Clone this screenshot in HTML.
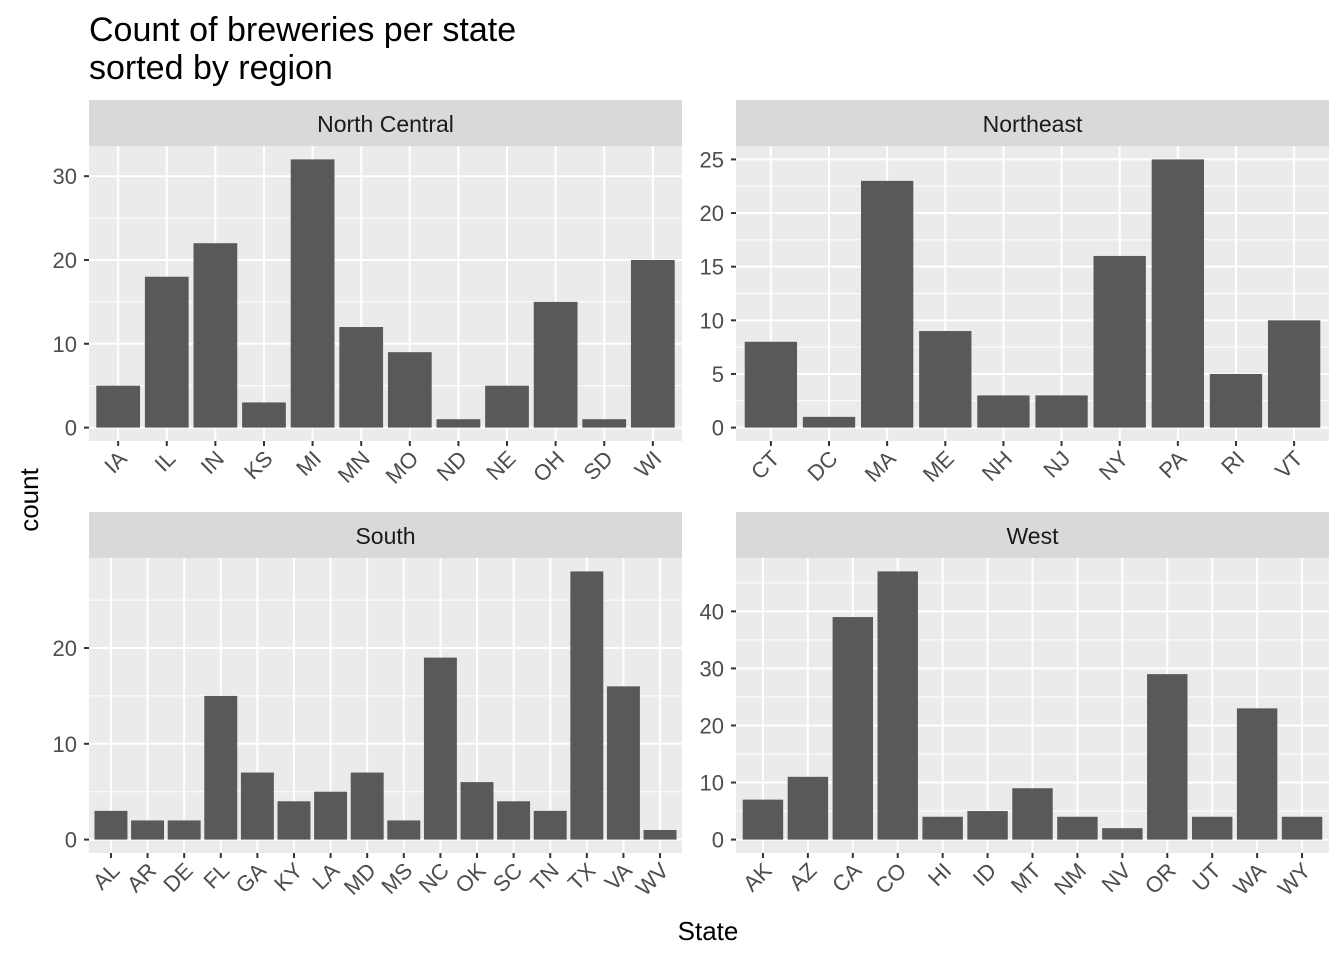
<!DOCTYPE html>
<html><head><meta charset="utf-8"><style>
html,body{margin:0;padding:0;background:#fff;}
svg{display:block;font-family:"Liberation Sans",Arial,sans-serif;}
</style></head><body>
<svg id="chart" width="1344" height="960" viewBox="0 0 1344 960">
<rect width="1344" height="960" fill="#fff"/>
<text x="89" y="41" font-size="34" fill="#000">Count of breweries per state</text>
<text x="89" y="79" font-size="34" fill="#000">sorted by region</text>
<text x="708" y="940" font-size="26" fill="#000" text-anchor="middle">State</text>
<text transform="translate(38,500) rotate(-90)" font-size="26" fill="#000" text-anchor="middle">count</text>
<g id="panels"></g>
</svg>
<script>
const ncStates=["IA","IL","IN","KS","MI","MN","MO","ND","NE","OH","SD","WI"];
const ncCounts=[5,18,22,3,32,12,9,1,5,15,1,20];
const neStates=["CT","DC","MA","ME","NH","NJ","NY","PA","RI","VT"];
const neCounts=[8,1,23,9,3,3,16,25,5,10];
const soStates=["AL","AR","DE","FL","GA","KY","LA","MD","MS","NC","OK","SC","TN","TX","VA","WV"];
const soCounts=[3,2,2,15,7,4,5,7,2,19,6,4,3,28,16,1];
const weStates=["AK","AZ","CA","CO","HI","ID","MT","NM","NV","OR","UT","WA","WY"];
const weCounts=[7,11,39,47,4,5,9,4,2,29,4,23,4];
const ncTicks=[0,10,20,30];
const neTicks=[0,5,10,15,20,25];
const soTicks=[0,10,20];
const weTicks=[0,10,20,30,40];

const NS="http://www.w3.org/2000/svg";
const root=document.getElementById("panels");
function mk(tag,attrs,parent){const e=document.createElementNS(NS,tag);for(const k in attrs)e.setAttribute(k,attrs[k]);(parent||root).appendChild(e);return e;}

function panel(title,slug,cats,vals,ticks,x0,y0){
  const W=593,stripH=46,top=y0+stripH,H=295,bot=top+H;
  const g=mk("g",{});
  
  
  const maxV=Math.max(...vals),pad=maxV*0.05;
  const lo=-pad,hi=maxV+pad;
  const y=v=>bot-(v-lo)/(hi-lo)*H;
  const n=cats.length,step=W/(n-1+1.2);
  const x=i=>x0+(0.6+i)*step;
  const strip=mk("rect",{x:x0,y:y0,width:W,height:stripH,fill:"#d9d9d9"},g);
  
  
  const st=mk("text",{x:x0+W/2,y:y0+32,"font-size":23,fill:"#1a1a1a","text-anchor":"middle"},g);
  st.textContent=title;
  
  
  const bg=mk("rect",{x:x0,y:top,width:W,height:H,fill:"#ebebeb"},g);
  
  
  const tstep=ticks[1]-ticks[0];
  for(let t=ticks[0]-tstep/2;t<=hi;t+=tstep/2){
    if(t<lo)continue;
    const major=ticks.includes(t);
    const gl=mk("line",{x1:x0,x2:x0+W,y1:y(t),y2:y(t),stroke:"#fff","stroke-width":major?2:1},g);
    
    
  }
  cats.forEach((c,i)=>{
    const vl=mk("line",{x1:x(i),x2:x(i),y1:top,y2:bot,stroke:"#fff","stroke-width":2},g);
    
    
  });
  cats.forEach((c,i)=>{
    const bw=step*0.9;
    const b=mk("rect",{x:x(i)-bw/2,y:y(vals[i]),width:bw,height:y(0)-y(vals[i]),fill:"#595959"},g);
    
    
    const tk=mk("line",{x1:x(i),x2:x(i),y1:bot,y2:bot+5,stroke:"#333","stroke-width":2},g);
    
    
    const lb=mk("text",{transform:`translate(${x(i)+10},${bot+19}) rotate(-45)`,"font-size":22,fill:"#4d4d4d","text-anchor":"end"},g);
    lb.textContent=c;
    
    
  });
  ticks.forEach(t=>{
    const tk=mk("line",{x1:x0-5,x2:x0,y1:y(t),y2:y(t),stroke:"#333","stroke-width":2},g);
    
    
    const lb=mk("text",{x:x0-12,y:y(t)+8,"font-size":22,fill:"#4d4d4d","text-anchor":"end"},g);
    lb.textContent=t;
    
    
  });
}
panel("North Central","north-central",ncStates,ncCounts,ncTicks,89,100);
panel("Northeast","northeast",neStates,neCounts,neTicks,736,100);
panel("South","south",soStates,soCounts,soTicks,89,512);
panel("West","west",weStates,weCounts,weTicks,736,512);
</script>
</body></html>
